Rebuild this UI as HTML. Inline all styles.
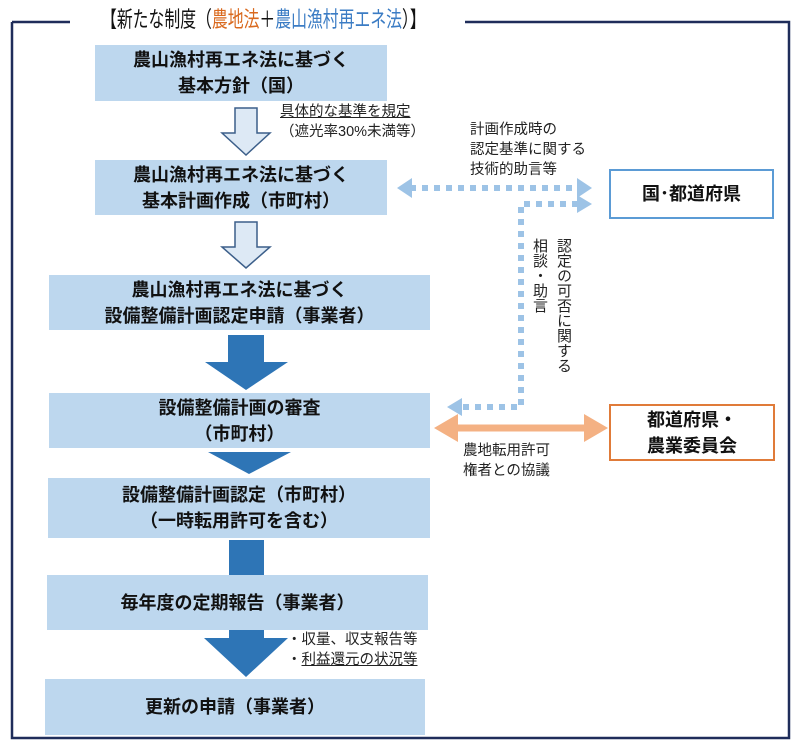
<!DOCTYPE html>
<html><head><meta charset="utf-8"><style>
body{margin:0;width:800px;height:746px;background:#fff;position:relative;overflow:hidden;font-family:"Liberation Sans","Noto Sans CJK JP",sans-serif;color:#111}
.b{position:absolute;background:#bdd7ee;font-weight:bold;font-size:18px;line-height:26px;text-align:center;display:flex;flex-direction:column;justify-content:center}
.t{position:absolute;font-size:14.5px;line-height:20px;color:#222;white-space:nowrap}
svg{position:absolute;left:0;top:0}
</style></head><body>
<svg width="800" height="746">
<path d="M12 22V738H789V22H465M12 22H70" fill="none" stroke="#1f2d5a" stroke-width="2.5"/>
<path d="M235 108H257V133H270L246 155L222 133H235Z" fill="#dde9f5" stroke="#3c5f8a" stroke-width="1.5"/>
<path d="M235 222H257V247H270L246 268L222 247H235Z" fill="#dde9f5" stroke="#3c5f8a" stroke-width="1.5"/>
<path d="M228 335H264V362H288L246 390L205 362H228Z" fill="#2e75b6"/>
<path d="M208 452H291L249 474Z" fill="#2e75b6"/>
<rect x="229" y="540" width="35" height="36" fill="#2e75b6"/>
<path d="M229 630H264V638H288L246 677L204 638H229Z" fill="#2e75b6"/>
<line x1="410" y1="188" x2="578" y2="188" stroke="#9dc3e6" stroke-width="6" stroke-dasharray="6 6"/>
<path d="M397 188L412 178V198Z M592 188L577 178V198Z" fill="#9dc3e6"/>
<path d="M578 204H521V407H462" fill="none" stroke="#9dc3e6" stroke-width="6" stroke-dasharray="6 6"/>
<path d="M592 204L577 195V213Z M447 407L462 398V416Z" fill="#9dc3e6"/>
<line x1="450" y1="428" x2="592" y2="428" stroke="#f4b183" stroke-width="7"/>
<path d="M434 428L458 414V442Z M608 428L584 414V442Z" fill="#f4b183"/>
<rect x="610" y="170" width="163" height="48" fill="#fff" stroke="#5b9bd5" stroke-width="2"/>
<rect x="610" y="405" width="164" height="55" fill="#fff" stroke="#e07b39" stroke-width="2"/>
</svg>
<div style="position:absolute;left:45px;top:5px;width:400px;text-align:center;font-size:22px;line-height:30px;white-space:nowrap;transform:scaleX(0.72);transform-origin:center">【新たな制度（<span style="color:#d9691e">農地法</span>＋<span style="color:#3b7cc4">農山漁村再エネ法</span>）】</div>
<div class="b" style="left:95px;top:45px;width:292px;height:56px">農山漁村再エネ法に基づく<br>基本方針（国）</div>
<div class="b" style="left:95px;top:160px;width:292px;height:55px">農山漁村再エネ法に基づく<br>基本計画作成（市町村）</div>
<div class="b" style="left:49px;top:275px;width:381px;height:55px">農山漁村再エネ法に基づく<br>設備整備計画認定申請（事業者）</div>
<div class="b" style="left:49px;top:393px;width:381px;height:55px">設備整備計画の審査<br>（市町村）</div>
<div class="b" style="left:48px;top:478px;width:382px;height:60px">設備整備計画認定（市町村）<br>（一時転用許可を含む）</div>
<div class="b" style="left:47px;top:575px;width:381px;height:55px">毎年度の定期報告（事業者）</div>
<div class="b" style="left:45px;top:679px;width:380px;height:56px">更新の申請（事業者）</div>
<div class="b" style="left:611px;top:171px;width:161px;height:46px;background:#fff">国･都道府県</div>
<div class="b" style="left:611px;top:406px;width:162px;height:53px;background:#fff">都道府県・<br>農業委員会</div>
<div class="t" style="left:280px;top:102px"><u>具体的な基準を規定</u><br>（遮光率30%未満等）</div>
<div class="t" style="left:470px;top:120px">計画作成時の<br>認定基準に関する<br>技術的助言等</div>
<div class="t" style="left:463px;top:441px">農地転用許可<br>権者との協議</div>
<div class="t" style="left:287px;top:630px">・収量、収支報告等<br>・<u>利益還元の状況等</u></div>
<div class="t" style="left:527px;top:238px;writing-mode:vertical-rl;line-height:24px;font-size:15px">認定の可否に関する<br>相談・助言</div>
</body></html>
